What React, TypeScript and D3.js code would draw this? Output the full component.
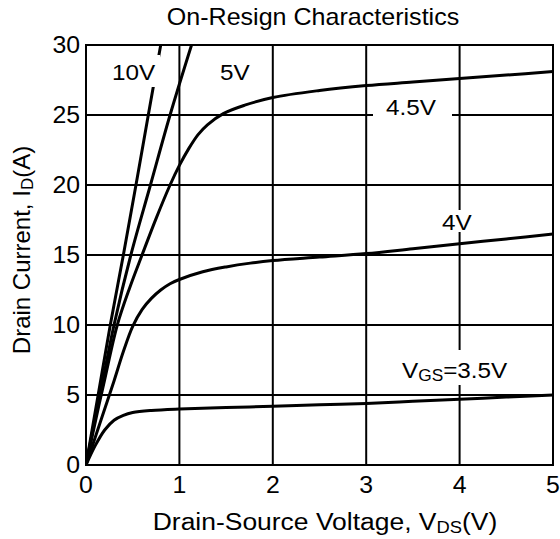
import React from "react";
import * as d3 from "d3";

const xTicks = [0, 1, 2, 3, 4, 5];
const yTicks = [0, 5, 10, 15, 20, 25, 30];

const vds10: [number, number][] = [[0,0],[0.13,5],[0.26,10],[0.4,15],[0.535,20],[0.667,25],[0.8,30]];
const vds5: [number, number][] = [[0,0],[0.1,3.4],[0.2,6.7],[0.3,10],[0.48,15],[0.69,20],[0.9,25],[1.13,30]];
const vds45: [number, number][] = [[0,0],[0.1,3.1],[0.2,6.1],[0.335,10],[0.47,12.7],[0.6,15],[0.75,17.6],[0.9,20],[1,21.4],[1.1,22.6],[1.2,23.6],[1.3,24.3],[1.47,25.1],[1.7,25.7],[2,26.25],[2.5,26.75],[3,27.1],[3.5,27.35],[4,27.6],[4.5,27.85],[5,28.1]];
const vds4: [number, number][] = [[0,0],[0.1,2.0],[0.2,4.0],[0.3,6.0],[0.4,8.1],[0.5,9.9],[0.6,11.1],[0.7,11.9],[0.8,12.5],[0.9,12.95],[1,13.25],[1.25,13.8],[1.5,14.15],[1.76,14.42],[2,14.6],[2.5,14.85],[3,15.1],[3.5,15.45],[4,15.8],[4.5,16.15],[5,16.5]];
const vds35: [number, number][] = [[0,0],[0.1,1.4],[0.2,2.5],[0.3,3.2],[0.4,3.55],[0.5,3.75],[0.7,3.9],[1,4.0],[1.5,4.1],[2,4.2],[2.5,4.3],[3,4.4],[3.5,4.55],[4,4.7],[4.5,4.85],[5,5.0]];

const series = [vds10, vds5, vds45, vds4, vds35];

const W = 560, H = 539;
const L = 86, R = 553, T = 45, B = 465;
const FONT = "'Liberation Sans', Arial, sans-serif";
const SX = 1.08;

function T2(props: { x: number; y: number; size: number; anchor?: string; sx?: number; children: React.ReactNode }) {
  const { x, y, size, anchor, sx, children } = props;
  return (
    <text transform={`translate(${x},${y}) scale(${sx ?? SX},1)`} fontSize={size} textAnchor={anchor || "start"} fill="#000">
      {children}
    </text>
  );
}

export default function App() {
  const x = d3.scaleLinear().domain([0, 5]).range([L, R]);
  const y = d3.scaleLinear().domain([0, 30]).range([B, T]);
  const line = d3.line<[number, number]>().x(d => x(d[0])).y(d => y(d[1])).curve(d3.curveCatmullRom.alpha(0.5));

  return (
    <svg width={W} height={H} style={{ position: "absolute", left: 0, top: 0, background: "#fff" }} fontFamily={FONT}>
      <defs>
        <clipPath id="pc"><rect x={L} y={T} width={R - L} height={B - T} /></clipPath>
      </defs>
      <rect x={0} y={0} width={W} height={H} fill="#fff" />
      {xTicks.map(t => (
        <line key={"gx" + t} x1={x(t)} x2={x(t)} y1={T} y2={B} stroke="#000" strokeWidth={2} />
      ))}
      {yTicks.map(t => (
        <line key={"gy" + t} x1={L} x2={R} y1={y(t)} y2={y(t)} stroke="#000" strokeWidth={2} />
      ))}
      <g clipPath="url(#pc)">
        {series.map((s, i) => (
          <path key={i} d={line(s) || ""} fill="none" stroke="#000" strokeWidth={3} />
        ))}
      </g>
      <rect x={L} y={T} width={R - L} height={B - T} fill="none" stroke="#000" strokeWidth={2} />

      {/* label backgrounds */}
      <rect x={108} y={55} width={52} height={32} fill="#fff" />
      <rect x={373} y={97} width={79} height={22} fill="#fff" />
      <rect x={436} y={210} width={44} height={22} fill="#fff" />
      <rect x={396} y={350} width={118} height={35} fill="#fff" />

      <T2 x={112} y={80} size={22.5}>10V</T2>
      <T2 x={220} y={80} size={22.5}>5V</T2>
      <T2 x={386} y={115} size={22.5}>4.5V</T2>
      <T2 x={442} y={230} size={22.5}>4V</T2>
      <T2 x={402} y={378} size={22.5}>V<tspan fontSize={16} dy={3}>GS</tspan><tspan dy={-3}>=3.5V</tspan></T2>

      {yTicks.map(t => (
        <T2 key={"ty" + t} x={L - 6} y={y(t) + 8} size={23} anchor="end">{t}</T2>
      ))}
      {xTicks.map(t => (
        <T2 key={"tx" + t} x={x(t)} y={493} size={23} anchor="middle">{t}</T2>
      ))}

      <T2 x={313} y={25} size={23} sx={1.09} anchor="middle">On-Resign Characteristics</T2>
      <T2 x={325} y={530} size={24.5} anchor="middle">Drain-Source Voltage, V<tspan fontSize={17} dy={3}>DS</tspan><tspan dy={-3}>(V)</tspan></T2>
      <text transform={`translate(30,${250}) rotate(-90)`} fontSize={24} textAnchor="middle" fill="#000">Drain Current, I<tspan fontSize={17} dy={3}>D</tspan><tspan dy={-3}>(A)</tspan></text>
    </svg>
  );
}
